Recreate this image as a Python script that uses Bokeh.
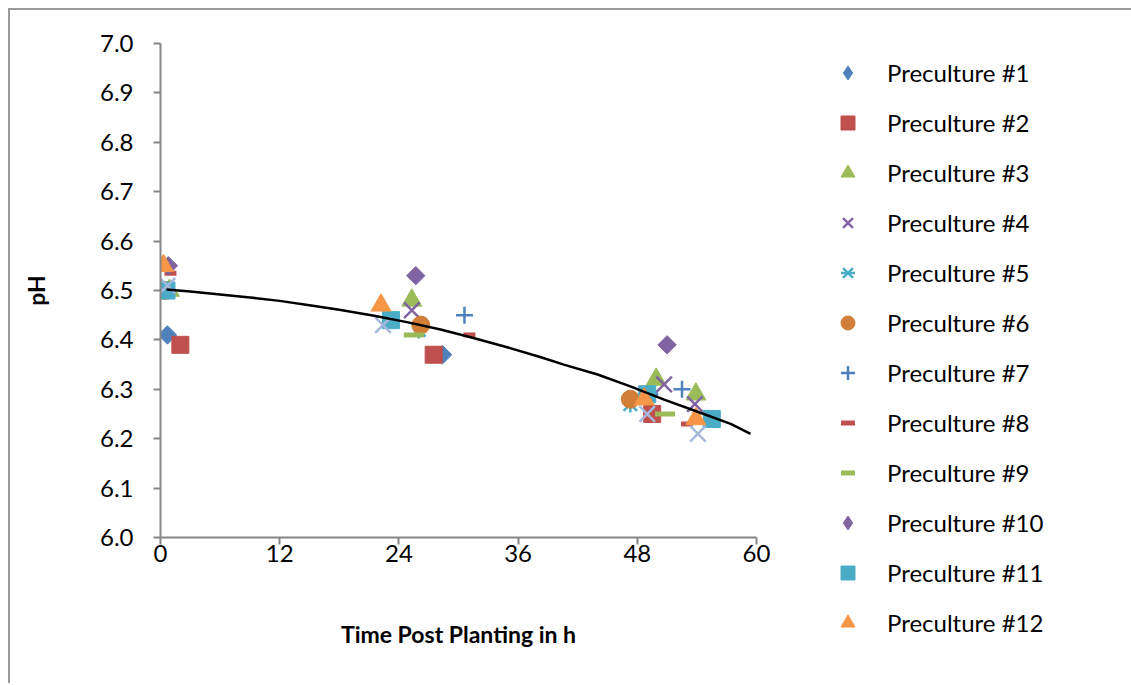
import numpy as np
from bokeh.plotting import figure
from bokeh.models import Range1d, FixedTicker, PrintfTickFormatter, Legend, LegendItem
from bokeh.embed import file_html
from bokeh.resources import INLINE

# ---------------- data ----------------
x_ticks = [0, 12, 24, 36, 48, 60]
y_ticks = [6.0, 6.1, 6.2, 6.3, 6.4, 6.5, 6.6, 6.7, 6.8, 6.9, 7.0]

pre1_x = [0.7, 28.4, 49.2]
pre1_y = [6.41, 6.37, 6.29]
pre2_x = [2.0, 27.5, 49.5]
pre2_y = [6.39, 6.37, 6.25]
pre3_x = [0.9, 25.3, 49.9, 53.9]
pre3_y = [6.50, 6.48, 6.32, 6.29]
pre4_x = [0.6, 25.3, 50.7, 53.8]
pre4_y = [6.50, 6.46, 6.31, 6.27]
pre5_x = [0.5, 26.0, 47.3]
pre5_y = [6.50, 6.42, 6.27]
pre6_x = [0.5, 26.2, 47.3]
pre6_y = [6.50, 6.43, 6.28]
pre7_x = [0.5, 30.6, 52.5]
pre7_y = [6.50, 6.45, 6.30]
pre8_x = [1.0, 31.1, 53.0]
pre8_y = [6.535, 6.41, 6.23]
pre9_x = [0.4, 25.5, 50.8]
pre9_y = [6.49, 6.41, 6.25]
pre10_x = [0.8, 25.7, 51.0]
pre10_y = [6.55, 6.53, 6.39]
pre11_x = [0.6, 23.2, 49.0, 55.5]
pre11_y = [6.50, 6.44, 6.29, 6.24]
pre12_x = [0.3, 22.2, 48.7, 53.9]
pre12_y = [6.55, 6.47, 6.28, 6.24]
pre13_x = [0.7, 22.4, 49.0, 54.1]
pre13_y = [6.51, 6.43, 6.25, 6.21]

trend_x = [0.6, 3, 6, 9, 12, 15, 18, 21.5, 24.8, 28.2, 31.5, 34.9, 38.3, 40.6,
           44.0, 47.3, 50.7, 54.0, 57.4, 59.4]
trend_y = [6.502, 6.498, 6.492, 6.486, 6.479, 6.470, 6.461, 6.449, 6.436, 6.421,
           6.404, 6.385, 6.365, 6.350, 6.330, 6.306, 6.279, 6.255, 6.230, 6.21]

FONT = "Lato"

p = figure(frame_width=596, frame_height=494, x_range=Range1d(0, 60), y_range=Range1d(6.0, 7.0),
           output_backend="svg", toolbar_location=None,
           min_border_left=150, min_border_right=54, min_border_top=33, min_border_bottom=146)
p.styles = {"margin-left": "8px", "margin-top": "8px",
            "border-top": "2px solid #9a9a9a", "border-left": "2px solid #9a9a9a"}
p.outline_line_color = None
p.grid.visible = False
p.background_fill_color = "white"
p.border_fill_color = "white"

for ax in (p.xaxis[0], p.yaxis[0]):
    ax.axis_line_color = "#868686"
    ax.axis_line_width = 2
    ax.major_tick_line_color = "#868686"
    ax.major_tick_line_width = 2
    ax.major_tick_out = 7
    ax.major_tick_in = 0
    ax.minor_tick_line_color = None
    ax.major_label_text_font = FONT
    ax.major_label_text_font_size = "24px"
    ax.major_label_text_color = "black"
    ax.axis_label_text_font = FONT
    ax.axis_label_text_font_size = "23px"
    ax.axis_label_text_font_style = "bold"
    ax.axis_label_text_color = "black"

p.xaxis.ticker = FixedTicker(ticks=x_ticks)
p.yaxis.ticker = FixedTicker(ticks=y_ticks)
p.yaxis.formatter = PrintfTickFormatter(format="%.1f")
p.xaxis.axis_label = "Time Post Planting in h"
p.yaxis.axis_label = "pH"
p.xaxis.major_label_standoff = 0
p.yaxis.major_label_standoff = 20
p.xaxis.axis_label_standoff = 55
p.yaxis.axis_label_standoff = 47

items = []
# diamond series: a narrow diamond (used for the legend) under a rotated square
r = p.scatter(pre1_x, pre1_y, marker="diamond", size=14, color="#4F81BD")
p.scatter(pre1_x, pre1_y, marker="square", angle=np.pi / 4, size=13, color="#4F81BD")
items.append(LegendItem(label="Preculture #1", renderers=[r]))
r = p.scatter(pre2_x, pre2_y, marker="square", size=17, color="#C0504D")
items.append(LegendItem(label="Preculture #2", renderers=[r]))
r = p.scatter(pre3_x, pre3_y, marker="triangle", size=20, color="#9BBB59")
items.append(LegendItem(label="Preculture #3", renderers=[r]))
r = p.scatter(pre4_x, pre4_y, marker="x", size=22, line_width=2.5, color="#8064A2")
items.append(LegendItem(label="Preculture #4", renderers=[r]))
r1 = p.scatter(pre5_x, pre5_y, marker="x", size=19, line_width=2.5, color="#4BACC6")
r2 = p.scatter(pre5_x, pre5_y, marker="dash", angle=np.pi / 2, size=17, line_width=2.5, color="#4BACC6")
items.append(LegendItem(label="Preculture #5", renderers=[r1, r2]))
r = p.scatter(pre6_x, pre6_y, marker="circle", size=18, color="#D07E38")
items.append(LegendItem(label="Preculture #6", renderers=[r]))
r = p.scatter(pre7_x, pre7_y, marker="cross", size=17, line_width=2.5, color="#4F81BD")
items.append(LegendItem(label="Preculture #7", renderers=[r]))
r = p.scatter(pre8_x, pre8_y, marker="dash", size=12, line_width=5, color="#C0504D")
items.append(LegendItem(label="Preculture #8", renderers=[r]))
r = p.scatter(pre9_x, pre9_y, marker="dash", size=20, line_width=5, color="#9BBB59")
items.append(LegendItem(label="Preculture #9", renderers=[r]))
r = p.scatter(pre10_x, pre10_y, marker="diamond", size=14, color="#8064A2")
p.scatter(pre10_x, pre10_y, marker="square", angle=np.pi / 4, size=13, color="#8064A2")
items.append(LegendItem(label="Preculture #10", renderers=[r]))
r = p.scatter(pre11_x, pre11_y, marker="square", size=17, color="#4BACC6")
items.append(LegendItem(label="Preculture #11", renderers=[r]))
r = p.scatter(pre12_x, pre12_y, marker="triangle", size=20, color="#F79646")
items.append(LegendItem(label="Preculture #12", renderers=[r]))
p.scatter(pre13_x, pre13_y, marker="x", size=22, line_width=2.5, color="#A6B9DC")

p.line(trend_x, trend_y, line_color="black", line_width=2.5)

legend = Legend(items=items, location=(74, -103), orientation="vertical",
                glyph_width=35, glyph_height=35, label_height=35, spacing=15,
                label_standoff=22, padding=0, margin=0,
                border_line_color=None, background_fill_alpha=0,
                label_text_font=FONT, label_text_font_size="24px", label_text_color="black")
p.add_layout(legend, "right")

open("out.html", "w").write(file_html(p, INLINE))
